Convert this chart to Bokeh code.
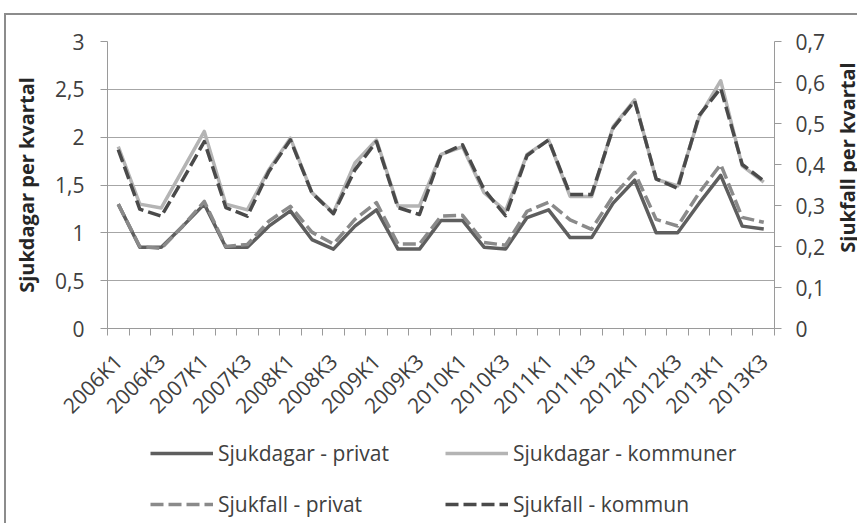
import math
from bokeh.plotting import figure
from bokeh.layouts import column
from bokeh.models import (Range1d, LinearAxis, FixedTicker, CustomJSTickFormatter,
                          Legend, LegendItem, Label)
from bokeh.embed import file_html
from bokeh.resources import INLINE

quarters = ["2006K1", "2006K2", "2006K3", "2006K4",
            "2007K1", "2007K2", "2007K3", "2007K4",
            "2008K1", "2008K2", "2008K3", "2008K4",
            "2009K1", "2009K2", "2009K3", "2009K4",
            "2010K1", "2010K2", "2010K3", "2010K4",
            "2011K1", "2011K2", "2011K3", "2011K4",
            "2012K1", "2012K2", "2012K3", "2012K4",
            "2013K1", "2013K2", "2013K3"]

# Sjukdagar per kvartal (left axis)
sjukdagar_privat = [1.30, 0.85, 0.85, 1.07, 1.30, 0.85, 0.85, 1.07,
                    1.23, 0.93, 0.83, 1.07, 1.24, 0.83, 0.83, 1.13,
                    1.13, 0.85, 0.83, 1.16, 1.24, 0.95, 0.95, 1.31,
                    1.55, 1.00, 1.00, 1.31, 1.60, 1.07, 1.04]
sjukdagar_kommuner = [1.90, 1.30, 1.26, 1.66, 2.06, 1.30, 1.24, 1.66,
                      1.99, 1.42, 1.21, 1.73, 1.97, 1.28, 1.28, 1.82,
                      1.90, 1.42, 1.23, 1.82, 1.97, 1.38, 1.38, 2.11,
                      2.39, 1.56, 1.49, 2.21, 2.59, 1.70, 1.53]
# Sjukfall per kvartal (right axis)
sjukfall_privat = [0.303, 0.200, 0.195, 0.250, 0.310, 0.200, 0.205, 0.262,
                   0.298, 0.235, 0.206, 0.266, 0.307, 0.206, 0.206, 0.274,
                   0.276, 0.210, 0.203, 0.286, 0.308, 0.265, 0.242, 0.323,
                   0.381, 0.266, 0.250, 0.331, 0.400, 0.271, 0.259]
sjukfall_kommun = [0.436, 0.291, 0.274, 0.363, 0.456, 0.295, 0.274, 0.383,
                   0.460, 0.331, 0.280, 0.387, 0.456, 0.295, 0.278, 0.424,
                   0.448, 0.339, 0.275, 0.422, 0.460, 0.327, 0.327, 0.489,
                   0.555, 0.365, 0.342, 0.520, 0.586, 0.400, 0.360]

left_ticks = [0, 0.5, 1, 1.5, 2, 2.5, 3]
right_ticks = [0, 0.1, 0.2, 0.3, 0.4, 0.5, 0.6, 0.7]
left_title = "Sjukdagar per kvartal"
right_title = "Sjukfall per kvartal"
series_names = ["Sjukdagar - privat", "Sjukdagar - kommuner",
                "Sjukfall - privat", "Sjukfall - kommun"]
series_values = [sjukdagar_privat, sjukdagar_kommuner, sjukfall_privat, sjukfall_kommun]
series_colors = ["#5e5e5e", "#b4b4b4", "#8a8a8a", "#4a4a4a"]
series_dash = ["solid", "solid", "13 5", "13 5"]

FONT = "Open Sans"
FS = "21px"
TXT = "#404040"
TITLE = "#262626"
AX = "#9a9a9a"
LW = 3.5

xs = [i + 0.5 for i in range(len(quarters))]

W, H1, H2 = 851, 416, 92
p = figure(width=W, height=H1, output_backend="svg", toolbar_location=None,
           x_range=Range1d(0, len(quarters)), y_range=Range1d(left_ticks[0], left_ticks[-1]),
           min_border_left=101, min_border_right=W - 768, min_border_top=26,
           min_border_bottom=H1 - 315)
p.outline_line_color = None
p.background_fill_color = "white"
p.border_fill_color = "white"
p.extra_y_ranges = {"fall": Range1d(right_ticks[0], right_ticks[-1])}

fmt = CustomJSTickFormatter(code="return String(Math.round(tick*10)/10).replace('.', ',');")

# x axis
xa = p.xaxis[0]
xa.ticker = FixedTicker(ticks=[xs[i] for i in range(0, len(quarters), 2)],
                        minor_ticks=list(range(0, len(quarters) + 1)))
xa.major_label_overrides = {xs[i]: quarters[i] for i in range(0, len(quarters), 2)}
xa.major_label_orientation = math.pi / 4
xa.major_tick_out = 0
xa.major_tick_in = 0
xa.minor_tick_out = 7
xa.minor_tick_in = 0
xa.minor_tick_line_color = AX
xa.axis_line_color = AX
xa.major_label_standoff = 22
xa.major_label_text_font = FONT
xa.major_label_text_font_size = FS
xa.major_label_text_color = TXT

# left axis
ya = p.yaxis[0]
ya.ticker = FixedTicker(ticks=left_ticks)
ya.formatter = fmt
ya.major_tick_out = 7
ya.major_tick_in = 0
ya.minor_tick_out = 0
ya.minor_tick_in = 0
ya.major_tick_line_color = AX
ya.axis_line_color = AX
ya.major_label_standoff = 16
ya.major_label_text_font = FONT
ya.major_label_text_font_size = FS
ya.major_label_text_color = TXT
ya.axis_label = left_title
ya.axis_label_standoff = 12
ya.axis_label_text_font = FONT
ya.axis_label_text_font_style = "bold"
ya.axis_label_text_font_size = "20px"
ya.axis_label_text_color = TITLE

# right axis
ra = LinearAxis(y_range_name="fall", ticker=FixedTicker(ticks=right_ticks), formatter=fmt)
ra.major_tick_out = 7
ra.major_tick_in = 0
ra.minor_tick_out = 0
ra.minor_tick_in = 0
ra.major_tick_line_color = AX
ra.axis_line_color = AX
ra.major_label_standoff = 14
ra.major_label_text_font = FONT
ra.major_label_text_font_size = FS
ra.major_label_text_color = TXT
p.add_layout(ra, "right")

# right-hand axis title, reading bottom to top as in the original
rt = Label(x=20, y=171, x_units="screen", y_units="screen", text=right_title,
           angle=math.pi / 2, text_align="center", text_baseline="alphabetic",
           text_font=FONT, text_font_style="bold", text_font_size="20px",
           text_color=TITLE)
p.add_layout(rt, "right")

p.xgrid.visible = False
p.ygrid.grid_line_color = "#a6a6a6"
p.ygrid.grid_line_width = 1.2

ranges = [None, None, "fall", "fall"]
renderers = []
for vals, c, d, rn in zip(series_values, series_colors, series_dash, ranges):
    kw = {"y_range_name": rn} if rn else {}
    renderers.append(p.line(xs, vals, line_color=c, line_width=LW, line_dash=d,
                            line_join="round", **kw))

# legend strip below the chart (its lines lie outside its visible range)
q = figure(width=W, height=H2, output_backend="svg", toolbar_location=None,
           x_range=Range1d(0, len(quarters)), y_range=Range1d(-2, -1),
           x_axis_type=None, y_axis_type=None, min_border=0)
q.outline_line_color = None
q.grid.visible = False
q.background_fill_color = "white"
q.border_fill_color = "white"
lr = [q.line(xs, vals, line_color=c, line_width=LW, line_dash=d)
      for vals, c, d in zip(series_values, series_colors, series_dash)]


def make_legend(idx, loc):
    return Legend(items=[LegendItem(label=series_names[i], renderers=[lr[i]]) for i in idx],
                  location=loc, orientation="vertical",
                  glyph_width=63, glyph_height=24, label_height=24, spacing=23,
                  padding=0, margin=0, label_standoff=5,
                  border_line_color=None, background_fill_alpha=0,
                  label_text_font=FONT, label_text_font_size=FS,
                  label_text_color=TXT)


q.add_layout(make_legend([0, 2], (43, 5)))
q.add_layout(make_legend([1, 3], (338, 5)))

layout = column(p, q, spacing=0)
layout.styles = {"border-top": "2px solid #8c8c8c", "border-left": "2px solid #8c8c8c",
                 "position": "relative", "top": "13px", "left": "4px"}

open("out.html", "w").write(file_html(layout, INLINE))
